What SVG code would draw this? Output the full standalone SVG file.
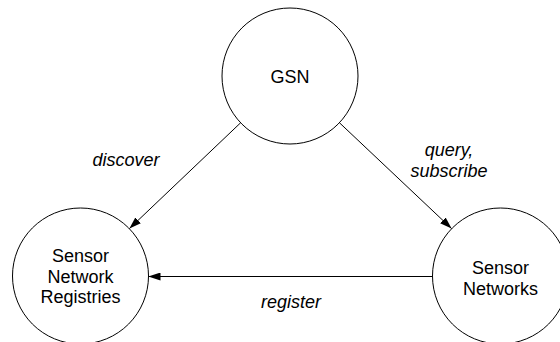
<svg xmlns="http://www.w3.org/2000/svg" width="560" height="342" viewBox="0 0 560 342">
<style>
.node{fill:#fff;stroke:#000;stroke-width:1}
.lbl{font-family:"Liberation Sans",Arial,sans-serif;font-size:18px;fill:#000;text-anchor:middle}
.edge{stroke:#000;stroke-width:1;fill:none;marker-end:url(#ah)}
.el{font-family:"Liberation Sans",Arial,sans-serif;font-size:18px;font-style:italic;fill:#000;text-anchor:middle}
</style>
<defs>
<marker id="ah" viewBox="0 0 12 8" refX="12" refY="4" markerWidth="12" markerHeight="8" markerUnits="userSpaceOnUse" orient="auto">
<path d="M0,0 L12,4 L0,8 Z" fill="#000"/>
</marker>
</defs>
<rect width="560" height="342" fill="#fff"/>
<g id="connectors">
<line class="edge" x1="240.6" y1="122.8" x2="129.4" y2="228.6"/>
<line class="edge" x1="339.5" y1="122.8" x2="451.6" y2="228.6"/>
<line class="edge" x1="432.5" y1="276.5" x2="148.5" y2="276.5"/>
<text class="el" x="126" y="166">discover</text>
<text class="el" x="449" y="156">query,</text>
<text class="el" x="449" y="177">subscribe</text>
<text class="el" x="291" y="308">register</text>
</g>
<g id="gsn">
<circle class="node" cx="290" cy="76" r="68"/>
<text class="lbl" x="290" y="82.5">GSN</text>
</g>
<g id="registries">
<circle class="node" cx="80.5" cy="276" r="68"/>
<text class="lbl" x="80.5" y="262">Sensor</text>
<text class="lbl" x="80.5" y="283">Network</text>
<text class="lbl" x="80.5" y="303">Registries</text>
</g>
<g id="networks">
<circle class="node" cx="500.5" cy="276" r="68"/>
<text class="lbl" x="500.5" y="274">Sensor</text>
<text class="lbl" x="500.5" y="295">Networks</text>
</g>
</svg>
